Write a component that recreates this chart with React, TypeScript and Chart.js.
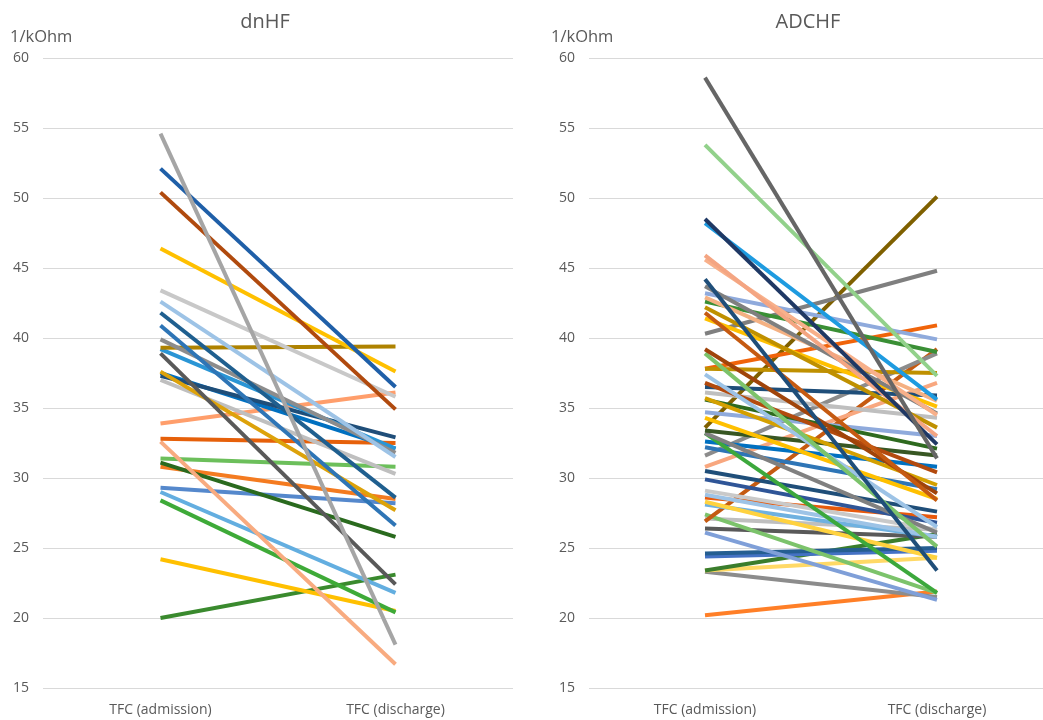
import React, { useEffect, useRef } from "react";
import { Chart, registerables } from "chart.js";

Chart.register(...registerables);

const categories = ["TFC (admission)", "TFC (discharge)"];
const yTicksMin = 15;
const yTicksMax = 60;
const yStep = 5;
const unitLabel = "1/kOhm";

const dnhfTitle = "dnHF";
const dnhfAdmission = [54.6, 52.1, 50.4, 46.4, 43.4, 42.6, 41.8, 40.9, 39.9, 39.3, 39.2, 38.9, 37.6, 37.3, 37.5, 37.0, 33.9, 32.8, 32.6, 31.4, 31.1, 30.8, 29.3, 29.0, 28.4, 24.2, 20.0];
const dnhfDischarge = [18.1, 36.5, 34.9, 37.6, 35.8, 31.5, 28.6, 26.6, 31.8, 39.4, 32.1, 22.4, 27.7, 32.9, 32.1, 30.3, 36.1, 32.5, 16.7, 30.8, 25.8, 28.5, 28.2, 21.8, 20.4, 20.5, 23.1];
const dnhfColors = ["#A5A5A5", "#1F5FA8", "#B04A0E", "#FFC000", "#C8C8C8", "#9DC3E6", "#1F5F8F", "#2E75B6", "#8C8C8C", "#AE8200", "#2A95D5", "#595959", "#DDA20A", "#1F4E79", "#0070C0", "#BFBFBF", "#FF9E6B", "#E6600A", "#F8AB80", "#6CBF5B", "#2A6A1E", "#F47B20", "#5588CC", "#63AEE0", "#3EAA38", "#FFC000", "#3A8A2E"];

const adchfTitle = "ADCHF";
const adchfAdmission = [58.6, 53.8, 48.5, 48.2, 45.9, 45.6, 44.2, 43.7, 43.2, 42.9, 42.6, 42.2, 41.8, 41.4, 40.3, 39.2, 38.9, 37.8, 37.8, 37.4, 36.8, 36.5, 36.1, 35.7, 35.6, 34.7, 34.3, 33.6, 33.4, 33.2, 33.2, 32.6, 32.2, 31.6, 30.8, 30.5, 29.9, 29.1, 28.8, 28.6, 28.3, 28.1, 26.9, 27.4, 27.1, 26.4, 26.1, 24.6, 24.4, 23.4, 23.4, 23.3, 20.2];
const adchfDischarge = [31.4, 37.3, 32.4, 35.6, 33.0, 34.5, 23.4, 34.6, 39.9, 35.5, 39.0, 33.6, 28.4, 35.1, 44.8, 28.9, 25.1, 37.5, 40.9, 26.5, 30.4, 35.9, 34.3, 29.5, 32.1, 33.0, 28.5, 50.1, 31.6, 26.1, 21.8, 30.8, 29.2, 38.9, 36.8, 27.6, 26.8, 26.3, 25.8, 27.2, 24.3, 25.8, 39.2, 21.8, 26.3, 25.8, 21.3, 25.0, 24.8, 26.0, 24.3, 21.5, 21.9];
const adchfColors = ["#666666", "#92D18B", "#1F3864", "#1E9BE0", "#F4A582", "#F8B08A", "#1F4E79", "#7F7F7F", "#8FAADC", "#F4B183", "#3A8F35", "#BF9000", "#C55A11", "#FFC000", "#7F7F7F", "#A0440A", "#7CC36B", "#BF9000", "#F0640A", "#9DC3E6", "#B34A0E", "#1F4E79", "#BFBFBF", "#D4A000", "#2E6A1F", "#8FAADC", "#FFC000", "#7F6000", "#385723", "#808080", "#3CA83C", "#0070C0", "#2E75B6", "#8C8C8C", "#F8A77F", "#1F4E79", "#2F5597", "#C9C9C9", "#9DC3E6", "#E8590C", "#FFD23F", "#6FB1E0", "#C55A11", "#7CC36B", "#BFBFBF", "#595959", "#7F9FD8", "#255E91", "#4472C4", "#3A7D2C", "#FFD966", "#8C8C8C", "#FF7F27"];

const FONT = "'Open Sans', 'Noto Sans', sans-serif";
const TEXT = "#595959";

function PanelChart(props: {
  title: string;
  admission: number[];
  discharge: number[];
  colors: string[];
  width: number;
  unitX: number;
}) {
  const ref = useRef<HTMLCanvasElement | null>(null);
  useEffect(() => {
    if (!ref.current) return;
    const { title, admission, discharge, colors, unitX } = props;
    const textPlugin = {
      id: "panelText",
      afterDraw(chart: any) {
        const ctx = chart.ctx;
        ctx.save();
        ctx.fillStyle = TEXT;
        ctx.textBaseline = "middle";
        ctx.font = `20px ${FONT}`;
        ctx.textAlign = "center";
        ctx.fillText(title, chart.width / 2, 22);
        ctx.font = `16.5px ${FONT}`;
        ctx.textAlign = "left";
        ctx.fillText(unitLabel, unitX, 37);
        ctx.restore();
      },
    };
    const chart = new Chart(ref.current, {
      type: "line",
      data: {
        labels: categories,
        datasets: admission.map((a, i) => ({
          label: `S${i + 1}`,
          data: [a, discharge[i]],
          borderColor: colors[i],
          backgroundColor: colors[i],
          borderWidth: 4,
          pointRadius: 0,
          pointHoverRadius: 0,
          tension: 0,
          fill: false,
        })),
      },
      options: {
        animation: false,
        responsive: false,
        events: [],
        layout: { padding: { top: 58, left: 13, right: 17, bottom: 1 } },
        plugins: {
          legend: { display: false },
          tooltip: { enabled: false },
          title: { display: false },
        },
        scales: {
          x: {
            offset: true,
            grid: { display: false, drawTicks: false },
            border: { display: false },
            ticks: { color: TEXT, font: { family: FONT, size: 14 }, padding: 14, maxRotation: 0 },
            afterFit(s: any) {
              s.paddingLeft = 0;
              s.paddingRight = 0;
              s.height = 31;
            },
          },
          y: {
            min: yTicksMin,
            max: yTicksMax,
            grid: { color: "#D9D9D9", lineWidth: 1, drawTicks: false },
            border: { display: false },
            ticks: { stepSize: yStep, color: TEXT, font: { family: FONT, size: 14 }, padding: 14 },
            afterFit(s: any) {
              s.paddingTop = 0;
              s.paddingBottom = 0;
              s.width = 30;
            },
          },
        },
      },
      plugins: [textPlugin],
    });
    return () => chart.destroy();
  }, []);
  return <canvas ref={ref} width={props.width} height={720} style={{ display: "block" }} />;
}

export default function App() {
  return (
    <div style={{ position: "fixed", left: 0, top: 0, width: 1043, height: 720, overflow: "hidden", background: "#fff" }}>
      <div style={{ position: "absolute", left: 0, top: 0 }}>
        <PanelChart title={dnhfTitle} admission={dnhfAdmission} discharge={dnhfDischarge} colors={dnhfColors} width={530} unitX={10} />
      </div>
      <div style={{ position: "absolute", left: 546, top: 0 }}>
        <PanelChart title={adchfTitle} admission={adchfAdmission} discharge={adchfDischarge} colors={adchfColors} width={524} unitX={5} />
      </div>
    </div>
  );
}
